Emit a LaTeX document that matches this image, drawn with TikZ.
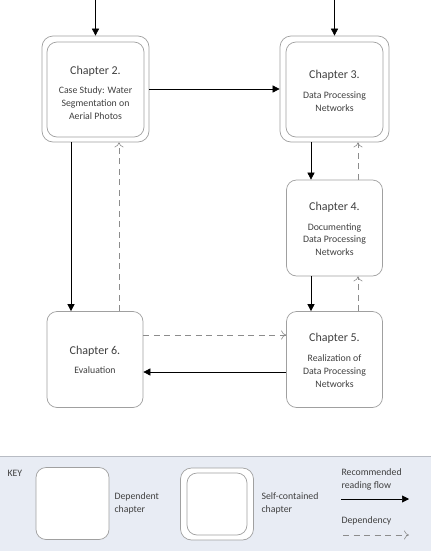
\documentclass[tikz,border=0pt]{standalone}
\usepackage{fontspec}
\setmainfont{Carlito}
\usetikzlibrary{arrows.meta}
\definecolor{boxc}{HTML}{A0A0A0}
\definecolor{txt}{HTML}{404040}
\definecolor{keybg}{HTML}{E8ECF4}
\definecolor{keyln}{HTML}{B8BCC4}
\definecolor{depc}{HTML}{8C8C8C}
\tikzset{
  chbox/.style={draw=boxc, line width=0.7pt, rounded corners=11pt, fill=white},
  inbox/.style={draw=boxc, line width=0.7pt, rounded corners=10pt, fill=white},
  ttl/.style={font=\fontsize{12}{14}\selectfont, text=txt},
  sub/.style={font=\fontsize{9.8}{12.8}\selectfont, text=txt, align=center},
  klab/.style={font=\fontsize{9.8}{12.8}\selectfont, text=txt, align=left, anchor=west},
  flow/.style={draw=black, line width=0.6pt, -{Triangle[length=7pt,width=7pt]}},
  dep/.style={draw=depc, line width=0.6pt, dash pattern=on 6pt off 4.5pt, -{To[length=5pt,width=9pt,line width=0.6pt]}},
}
\begin{document}
\begin{tikzpicture}[x=1pt,y=-1pt]
\useasboundingbox (0,0) rectangle (431,555);
\fill[white] (0,0) rectangle (431,555);
% Chapter 2 (self-contained)
\node[chbox, minimum width=107pt, minimum height=106pt] (ch2o) at (95.5,89) {};
\node[inbox, minimum width=97pt, minimum height=95pt] (ch2) at (95.5,89.5) {};
\node[ttl] (t2) at (95.5,71) {Chapter 2.};
\node[sub] (s2) at (95.5,103) {Case Study: Water\\Segmentation on\\Aerial Photos};
% Chapter 3 (self-contained)
\node[chbox, minimum width=109pt, minimum height=106pt] (ch3o) at (334.5,89) {};
\node[inbox, minimum width=97pt, minimum height=95pt] (ch3) at (334.5,89.5) {};
\node[ttl] (t3) at (334.5,75) {Chapter 3.};
\node[sub] (s3) at (334.5,101.5) {Data Processing\\Networks};
% Chapter 4
\node[inbox, minimum width=96pt, minimum height=96pt] (ch4) at (334.5,228) {};
\node[ttl] (t4) at (334.5,207) {Chapter 4.};
\node[sub] (s4) at (334.5,239.5) {Documenting\\Data Processing\\Networks};
% Chapter 5
\node[inbox, minimum width=96pt, minimum height=96pt] (ch5) at (334.5,359.5) {};
\node[ttl] (t5) at (334.5,338) {Chapter 5.};
\node[sub] (s5) at (334.5,371) {Realization of\\Data Processing\\Networks};
% Chapter 6
\node[inbox, minimum width=96pt, minimum height=96pt] (ch6) at (95,359.5) {};
\node[ttl] (t6) at (95,351) {Chapter 6.};
\node[sub] (s6) at (95,370) {Evaluation};
% entry points
\coordinate (in2) at (95.5,0);
\coordinate (in3) at (334.5,0);
\draw[flow] (in2) -- (ch2o.north);
\draw[flow] (in3) -- (ch3o.north);
% flows
\draw[flow] (ch2o.east) -- (ch3o.west);
\draw[flow] ([xshift=-23.5pt]ch3o.south) -- ([xshift=-23.5pt]ch4.north);
\draw[flow] ([xshift=-23.5pt]ch4.south) -- ([xshift=-23.5pt]ch5.north);
\draw[flow] ([xshift=-24.5pt]ch2o.south) -- ([xshift=-24pt]ch6.north);
\draw[flow] ([yshift=-12.5pt]ch5.west) -- ([yshift=-12.5pt]ch6.east);
% dependencies
\draw[dep] ([xshift=23.5pt]ch4.north) -- ([xshift=23.5pt]ch3o.south);
\draw[dep] ([xshift=23.5pt]ch5.north) -- ([xshift=23.5pt]ch4.south);
\draw[dep] ([xshift=24pt]ch6.north) -- ([xshift=23.5pt]ch2o.south);
\draw[dep] ([yshift=24.5pt]ch6.east) -- ([yshift=24.5pt]ch5.west);
% key
\fill[keybg] (0,456) rectangle (431,551);
\draw[keyln, line width=0.6pt] (0,456) -- (431,456);
\node[font=\fontsize{9.8}{12.8}\selectfont, text=txt, anchor=west] (key) at (4,473) {KEY};
\node[inbox, minimum width=73pt, minimum height=72pt] (kdep) at (72.5,503.5) {};
\node[klab] (kdepl) at (111,503) {Dependent\\chapter};
\node[chbox, minimum width=73pt, minimum height=72pt] (kselfo) at (217,504) {};
\node[inbox, minimum width=60pt, minimum height=62pt] (kself) at (217,504) {};
\node[klab] (kselfl) at (258,503) {Self-contained\\chapter};
\node[klab] (kflowl) at (338,479.5) {Recommended\\reading flow};
\coordinate (kf1) at (341,499);
\coordinate (kf2) at (409,499);
\draw[flow] (kf1) -- (kf2);
\node[klab] (kdepl2) at (338,521) {Dependency};
\coordinate (kd1) at (343,535);
\coordinate (kd2) at (409,535);
\draw[dep] (kd1) -- (kd2);
\end{tikzpicture}
\end{document}
